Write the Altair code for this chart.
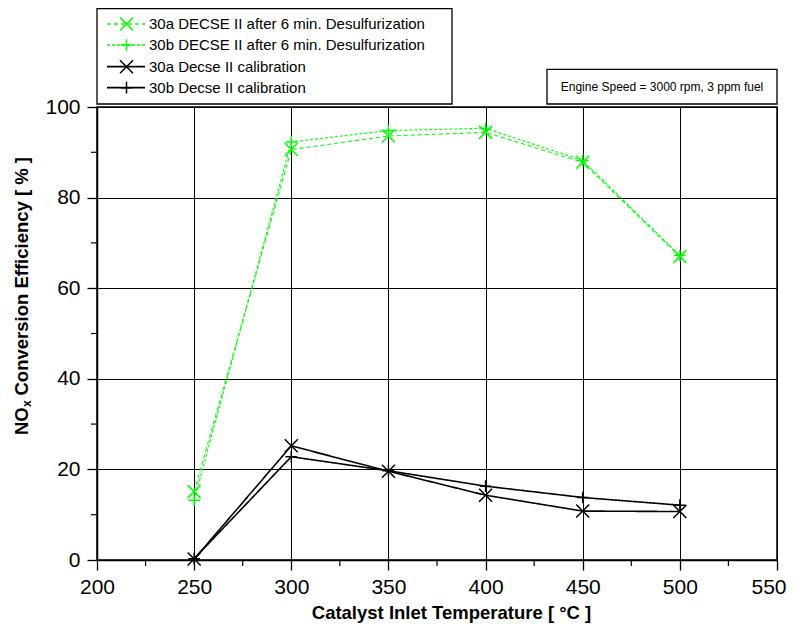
import altair as alt
import pandas as pd

# ---------------- data ----------------
temps = [250, 300, 350, 400, 450, 500]
desulf_30a = [15.1, 90.6, 93.6, 94.4, 87.8, 67.0]
desulf_30b = [13.2, 92.3, 94.8, 95.3, 88.2, 67.2]
calib_30a = [0.2, 25.2, 19.6, 14.3, 10.8, 10.7]
calib_30b = [0.3, 22.8, 19.7, 16.3, 13.8, 12.1]

series_names = [
    "30a DECSE II after 6 min. Desulfurization",
    "30b DECSE II after 6 min. Desulfurization",
    "30a Decse II calibration",
    "30b Decse II calibration",
]
series_values = [desulf_30a, desulf_30b, calib_30a, calib_30b]
series_groups = ["desulf", "desulf", "calib", "calib"]
series_colors = ["#00ff00", "#00ff00", "#000000", "#000000"]

X_PATH = "M-1,-1L1,1M-1,1L1,-1"
PLUS_PATH = "M-0.9,0L0.9,0M0,-0.9L0,0.9"
series_shapes = [X_PATH, PLUS_PATH, X_PATH, PLUS_PATH]
series_dashes = [[4, 3], [3, 2], [1, 0], [1, 0]]
series_widths = [1.1, 1.1, 1.6, 1.6]

x_major = [200, 250, 300, 350, 400, 450, 500, 550]
x_minor = [225, 275, 325, 375, 425, 475, 525]
y_major = [0, 20, 40, 60, 80, 100]
y_minor = [10, 30, 50, 70, 90]

x_title = "Catalyst Inlet Temperature [ °C ]"
y_title_parts = ["NO", "x", "Conversion Efficiency [ % ]"]
note_text = "Engine Speed = 3000 rpm, 3 ppm fuel"

FONT = "Liberation Sans"
W, H = 680, 453

rows = []
for name, vals, grp in zip(series_names, series_values, series_groups):
    for t, v in zip(temps, vals):
        rows.append({"series": name, "group": grp, "temp": t, "eff": v})
df = pd.DataFrame(rows)

xscale = alt.Scale(domain=[200, 550], nice=False, zero=False)
yscale = alt.Scale(domain=[0, 100], nice=False)
color_scale = alt.Scale(domain=series_names, range=series_colors)
dash_scale = alt.Scale(domain=series_names, range=series_dashes)
shape_scale = alt.Scale(domain=series_names, range=series_shapes)

x_axis = alt.Axis(
    values=x_major, format="d", grid=True, tickSize=10,
    labelPadding=6, titlePadding=6, titleX=354, labelFlush=False,
    labelAlign=alt.condition("datum.value == 550", alt.value("right"), alt.value("center")),
    labelOffset=alt.condition("datum.value == 550", alt.value(9), alt.value(0)),
)
y_axis = alt.Axis(values=y_major, format="d", grid=True, tickSize=10,
                  labelPadding=7, labelFlush=False)


def X(field="temp"):
    return alt.X(f"{field}:Q", scale=xscale, axis=x_axis, title=x_title)


def Y(field="eff"):
    return alt.Y(f"{field}:Q", scale=yscale, axis=y_axis, title="")


col = alt.Color("series:N", scale=color_scale, legend=None)
dash = alt.StrokeDash("series:N", scale=dash_scale, legend=None)
shp = alt.Shape("series:N", scale=shape_scale, legend=None)

base = alt.Chart(df)
lines_g = base.transform_filter(alt.datum.group == "desulf").mark_line(
    strokeWidth=1.1).encode(x=X(), y=Y(), color=col, strokeDash=dash)
lines_k = base.transform_filter(alt.datum.group == "calib").mark_line(
    strokeWidth=1.6).encode(x=X(), y=Y(), color=col, strokeDash=dash)
points = base.mark_point(filled=False, size=169, strokeWidth=1.5, opacity=1).encode(
    x=X(), y=Y(), color=col, shape=shp)

# minor ticks
xminor = alt.Chart(pd.DataFrame({"temp": x_minor})).mark_rule(
    color="black", strokeWidth=1.2).encode(x=X(), y=alt.value(H), y2=alt.value(H + 6))
yminor = alt.Chart(pd.DataFrame({"eff": y_minor})).mark_rule(
    color="black", strokeWidth=1.2).encode(y=Y(), x=alt.value(0), x2=alt.value(-6))

one = pd.DataFrame({"k": [0]})

# y title pieces
ytx = -74.7
yt1 = alt.Chart(pd.DataFrame({"t": [y_title_parts[0]]})).mark_text(
    angle=270, align="left", baseline="middle", font=FONT, fontSize=18.5,
    fontWeight="bold", color="black").encode(x=alt.value(ytx), y=alt.value(328), text="t:N")
yt2 = alt.Chart(pd.DataFrame({"t": [y_title_parts[1]]})).mark_text(
    angle=270, align="left", baseline="middle", font=FONT, fontSize=12,
    fontWeight="bold", color="black").encode(x=alt.value(ytx + 5), y=alt.value(300), text="t:N")
yt3 = alt.Chart(pd.DataFrame({"t": [y_title_parts[2]]})).mark_text(
    angle=270, align="left", baseline="middle", font=FONT, fontSize=18.5,
    fontWeight="bold", color="black").encode(x=alt.value(ytx), y=alt.value(288.5), text="t:N")

# legend box
leg_box = alt.Chart(one).mark_rect(fill="white", stroke="black", strokeWidth=1.3).encode(
    x=alt.value(0), x2=alt.value(355), y=alt.value(-98.5), y2=alt.value(-3))
leg_layers = []
leg_y = [-83, -62, -40.3, -19.3]
for i, name in enumerate(series_names):
    yi = leg_y[i]
    ld = pd.DataFrame({"label": [name]})
    leg_layers.append(alt.Chart(ld).mark_rule(
        color=series_colors[i], strokeWidth=series_widths[i] + 0.2,
        strokeDash=series_dashes[i]).encode(
        x=alt.value(10), x2=alt.value(48), y=alt.value(yi)))
    leg_layers.append(alt.Chart(ld).mark_point(
        shape=series_shapes[i], color=series_colors[i], filled=False, size=169,
        strokeWidth=1.5, opacity=1).encode(x=alt.value(29.5), y=alt.value(yi)))
    leg_layers.append(alt.Chart(ld).mark_text(
        align="left", baseline="middle", font=FONT, fontSize=15, color="black").encode(
        x=alt.value(52), y=alt.value(yi), text="label:N"))

# note box
note_box = alt.Chart(one).mark_rect(fill="white", stroke="black", strokeWidth=1.3).encode(
    x=alt.value(450), x2=alt.value(680), y=alt.value(-37.7), y2=alt.value(-3))
note = alt.Chart(pd.DataFrame({"t": [note_text]})).mark_text(
    align="center", baseline="middle", font=FONT, fontSize=12,
    color="black").encode(x=alt.value(565), y=alt.value(-20.3), text="t:N")

chart = alt.layer(
    lines_g, lines_k, points, xminor, yminor, yt1, yt2, yt3,
    leg_box, *leg_layers, note_box, note
).properties(
    width=W, height=H,
    padding={"left": 89, "top": 99, "right": 10, "bottom": 67},
    autosize=alt.AutoSizeParams(type="none"),
    background="white",
).configure_view(
    stroke="black", strokeWidth=1.5
).configure_axis(
    domainColor="black", domainWidth=1.5, tickColor="black", tickWidth=1.3,
    gridColor="black", gridWidth=1, gridOpacity=1,
    labelFont=FONT, labelFontSize=21, labelColor="black",
    titleFont=FONT, titleFontSize=18.5, titleFontWeight="bold", titleColor="black",
)

chart.save("out.html", embed_options={"renderer": "svg", "actions": False})
